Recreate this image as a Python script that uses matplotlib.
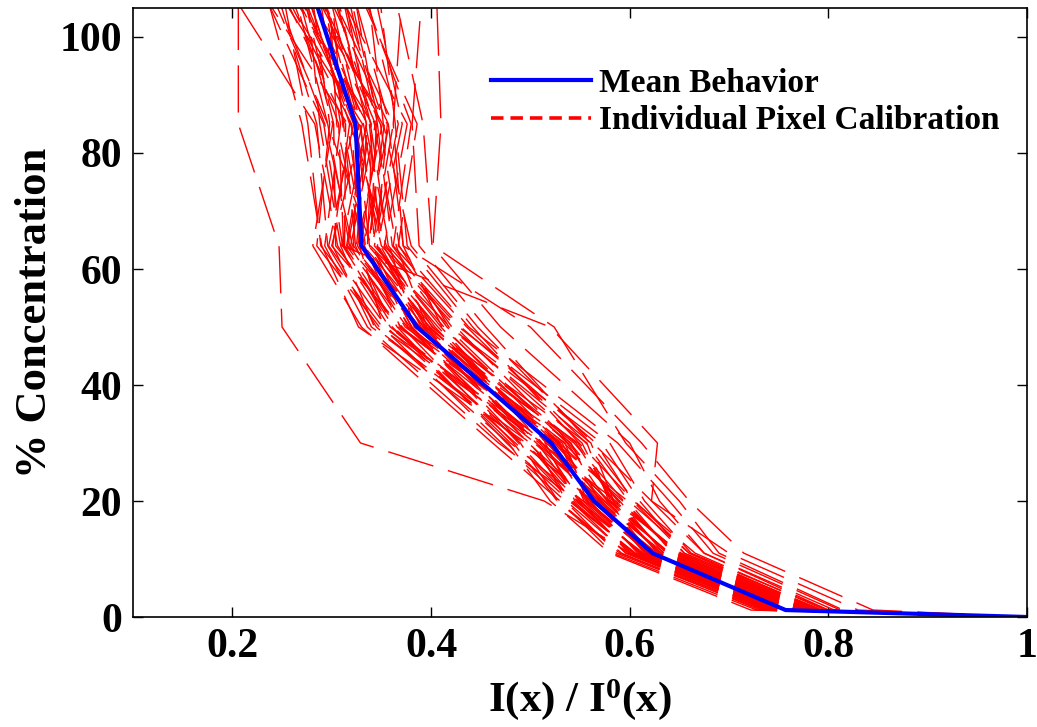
import numpy as np
import matplotlib
matplotlib.use("Agg")
import matplotlib.pyplot as plt
from matplotlib.lines import Line2D

plt.rcParams['font.family'] = 'serif'
plt.rcParams['font.serif'] = ['Liberation Serif', 'DejaVu Serif']
plt.rcParams['font.weight'] = 'bold'
plt.rcParams['mathtext.fontset'] = 'custom'
plt.rcParams['mathtext.rm'] = 'Liberation Serif:bold'
plt.rcParams['mathtext.it'] = 'Liberation Serif:bold'
plt.rcParams['mathtext.bf'] = 'Liberation Serif:bold'
plt.rcParams['lines.scale_dashes'] = False

# concentration steps (%) used for the calibration
conc = [0, 1.2, 11, 20, 30, 50, 64, 85, 110]

# mean I/I0 at each step
mean_x = [1.0, 0.757, 0.623, 0.564, 0.521, 0.386, 0.330, 0.324, 0.2765]

# per-pixel I/I0 at each step, in thousandths (first six are the stray pixels)
px_c1 = [740, 790, 800, 830, 815, 845,
         722, 728, 731, 734, 736, 738, 740, 741, 743, 744, 745, 746, 748, 749,
         750, 751, 752, 753, 754, 755, 756, 757, 758, 759, 760, 761, 762, 763,
         764, 765, 766, 767, 768, 769, 770, 771, 772, 773, 774, 775, 776, 778,
         779, 780, 782, 783, 785, 786, 788, 790, 792, 794, 797, 800, 806, 812]
px_c11 = [600, 660, 675, 700, 690, 715,
          580, 583, 592, 587, 596, 590, 601, 597, 604, 599, 606, 602, 610, 605,
          612, 608, 614, 610, 617, 612, 619, 615, 621, 617, 623, 619, 626, 621,
          628, 624, 630, 626, 632, 628, 635, 630, 637, 632, 639, 634, 641, 637,
          645, 640, 648, 643, 652, 646, 655, 650, 660, 655, 666, 662, 675, 684]
px_c20 = [514, 605, 630, 622, 650, 660,
          520, 530, 528, 535, 541, 527, 548, 536, 543, 551, 539, 547, 556, 541,
          549, 560, 545, 553, 566, 550, 558, 570, 554, 563, 572, 557, 566, 578,
          561, 569, 580, 564, 574, 583, 568, 577, 586, 571, 581, 590, 575, 584,
          593, 579, 588, 598, 584, 594, 603, 589, 599, 610, 604, 615, 622, 640]
px_c30 = [329, 560, 600, 628, 596, 612,
          478, 462, 490, 471, 500, 483, 468, 505, 488, 512, 476, 496, 520, 485,
          507, 493, 515, 480, 527, 499, 518, 504, 530, 491, 512, 535, 509, 524,
          498, 541, 516, 532, 506, 546, 521, 537, 511, 528, 552, 534, 518, 548,
          529, 557, 540, 525, 561, 544, 566, 538, 556, 572, 549, 580, 563, 588]
px_c50 = [250, 455, 470, 520, 524, 500,
          345, 330, 362, 351, 340, 371, 336, 358, 379, 348, 366, 327, 384, 355,
          392, 343, 370, 361, 398, 376, 352, 387, 367, 381, 404, 374, 359, 395,
          389, 377, 410, 369, 386, 401, 393, 416, 380, 399, 421, 390, 407, 383,
          413, 396, 425, 402, 418, 394, 430, 411, 436, 419, 442, 428, 447, 438]
px_c64 = [247, 388, 401, 310, 402, 372,
          296, 281, 311, 289, 301, 318, 293, 306, 322, 285, 313, 290, 331, 297,
          336, 309, 300, 324, 340, 315, 328, 319, 304, 334, 344, 326, 312, 349,
          321, 338, 345, 333, 316, 352, 329, 355, 341, 325, 361, 347, 337, 358,
          343, 365, 350, 332, 368, 346, 357, 372, 362, 339, 376, 353, 380, 367]
px_c85 = [206, 381, 392, 335, 410, 362,
          285, 301, 292, 276, 318, 296, 309, 283, 327, 298, 314, 270, 305, 322,
          341, 288, 331, 312, 296, 335, 320, 344, 302, 316, 329, 351, 307, 338,
          293, 325, 356, 311, 340, 332, 348, 319, 362, 336, 346, 328, 353, 334,
          367, 343, 323, 358, 349, 371, 339, 357, 380, 345, 364, 376, 352, 386]
px_c110 = [206, 392, 360, 300, 405, 372,
           241, 262, 225, 248, 271, 233, 285, 190, 256, 278, 244, 230, 297, 265,
           250, 274, 238, 290, 259, 302, 246, 283, 268, 221, 294, 276, 253, 310,
           239, 287, 264, 299, 281, 243, 315, 270, 292, 257, 320, 286, 305, 272,
           331, 296, 262, 318, 280, 340, 307, 289, 326, 313, 346, 300, 335, 322]

xticks = [0.2, 0.4, 0.6, 0.8, 1.0]
xtick_labels = ['0.2', '0.4', '0.6', '0.8', '1']
yticks = [0, 20, 40, 60, 80, 100]

n_px = len(px_c1)
px_table = np.column_stack([np.full(n_px, 1000), px_c1, px_c11, px_c20, px_c30,
                            px_c50, px_c64, px_c85, px_c110]) / 1000.0

fig = plt.figure(figsize=(10.37, 7.27), dpi=100)
ax = fig.add_axes([0.1283, 0.1513, 0.862, 0.8377])

for row in px_table:
    ax.plot(row, conc, color='red', lw=1.0, dashes=(34, 11))

ax.plot(mean_x, conc, color='blue', lw=3, solid_joinstyle='miter')

ax.set_xlim(0.1, 1.0)
ax.set_ylim(0, 105)
ax.set_xticks(xticks)
ax.set_xticklabels(xtick_labels)
ax.set_yticks(yticks)
ax.tick_params(direction='in', length=7, width=1, top=True, right=True,
               labelsize=30, pad=8)
for sp in ax.spines.values():
    sp.set_linewidth(1.2)

ax.set_xlabel(r'I(x) / I$^{0}$(x)', fontsize=31, fontweight='bold', labelpad=8)
ax.set_ylabel('% Concentration', fontsize=32, fontweight='bold', labelpad=3)

handles = [Line2D([], [], color='blue', lw=3),
           Line2D([], [], color='red', lw=2.6, dashes=(9, 5))]
ax.legend(handles, ['Mean Behavior', 'Individual Pixel Calibration'],
          loc='upper left', bbox_to_anchor=(0.40, 0.902), frameon=False,
          fontsize=24, handlelength=3.0, handletextpad=0.25,
          labelspacing=0.2, borderaxespad=0.0, borderpad=0.0)

fig.savefig('out.png', dpi=100)
